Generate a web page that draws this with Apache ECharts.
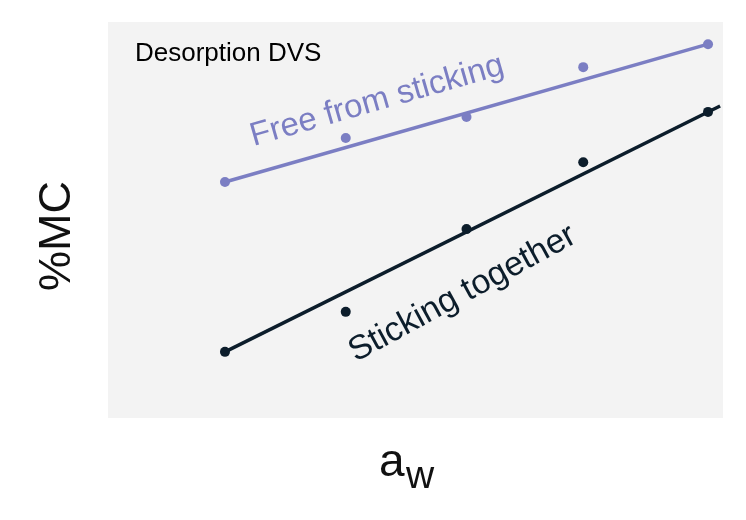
<!DOCTYPE html>
<html>
<head>
<meta charset="utf-8">
<script src="https://cdn.jsdelivr.net/npm/echarts@6/dist/echarts.min.js"></script>
<style>
  html, body { margin: 0; padding: 0; background: #fff; }
  #chart { width: 746px; height: 520px; }
</style>
</head>
<body>
<div id="chart"></div>
<script>
// water activity (x) and moisture content (y, arbitrary %MC units)
const aw = [0.2, 0.35, 0.5, 0.645, 0.8]
const freeMC = [59.6, 70.7, 76.0, 88.6, 94.4]
const stickMC = [16.7, 26.8, 47.7, 64.6, 77.3]

// fitted trend lines, endpoints
const freeFitX = [0.2, 0.8]
const freeFitY = [59.6, 94.4]
const stickFitX = [0.2, 0.815]
const stickFitY = [16.7, 78.8]

// where the curve labels sit, in data units
const freeLabelAt = [0.389, 80.0]
const stickLabelAt = [0.495, 31.4]

const purple = '#7b7ec3'
const navy = '#0c1d2b'
const font = 'Liberation Sans, Arial, Helvetica, sans-serif'

const pairs = (xs, ys) => xs.map((x, i) => [x, ys[i]])

const chart = echarts.init(document.getElementById('chart'))

const hidden = {
  axisLine: { show: false },
  axisTick: { show: false },
  axisLabel: { show: false },
  splitLine: { show: false }
}

chart.setOption({
  animation: false,
  grid: {
    left: 108, right: 23, top: 22, bottom: 102,
    show: true, backgroundColor: '#f3f3f3', borderWidth: 0
  },
  xAxis: { type: 'value', min: 0.0547, max: 0.8186, ...hidden },
  yAxis: { type: 'value', min: 0, max: 100, ...hidden },
  series: [
    {
      type: 'line',
      data: pairs(freeFitX, freeFitY),
      showSymbol: false,
      lineStyle: { color: purple, width: 3.5 },
      z: 2
    },
    {
      type: 'line',
      data: pairs(stickFitX, stickFitY),
      showSymbol: false,
      lineStyle: { color: navy, width: 3.5 },
      z: 2
    },
    {
      type: 'scatter',
      data: pairs(aw, freeMC),
      symbolSize: 10,
      itemStyle: { color: purple, opacity: 1 },
      z: 3
    },
    {
      type: 'scatter',
      data: pairs(aw, stickMC),
      symbolSize: 10,
      itemStyle: { color: navy, opacity: 1 },
      z: 3
    }
  ]
})

const freePx = chart.convertToPixel({ gridIndex: 0 }, freeLabelAt)
const stickPx = chart.convertToPixel({ gridIndex: 0 }, stickLabelAt)

chart.setOption({
  graphic: [
    {
      type: 'text', x: 135, y: 54,
      style: { text: 'Desorption DVS', fontSize: 26, fontFamily: font, fill: '#000', align: 'left', verticalAlign: 'middle' }
    },
    {
      type: 'text', x: freePx[0], y: freePx[1], rotation: 16 * Math.PI / 180,
      style: { text: 'Free from sticking', fontSize: 33, fontFamily: font, fill: purple, align: 'center', verticalAlign: 'middle' }
    },
    {
      type: 'text', x: stickPx[0], y: stickPx[1], rotation: 28.5 * Math.PI / 180,
      style: { text: 'Sticking together', fontSize: 34, fontFamily: font, fill: navy, align: 'center', verticalAlign: 'middle' }
    },
    {
      type: 'text', x: 58, y: 236, rotation: Math.PI / 2,
      style: { text: '%MC', fontSize: 45, fontFamily: font, fill: '#111', align: 'center', verticalAlign: 'middle' }
    },
    {
      type: 'text', x: 379, y: 463,
      style: { text: 'a', fontSize: 46, fontFamily: font, fill: '#111', align: 'left', verticalAlign: 'middle' }
    },
    {
      type: 'text', x: 406, y: 477,
      style: { text: 'w', fontSize: 39, fontFamily: font, fill: '#111', align: 'left', verticalAlign: 'middle' }
    }
  ]
})
</script>
</body>
</html>
